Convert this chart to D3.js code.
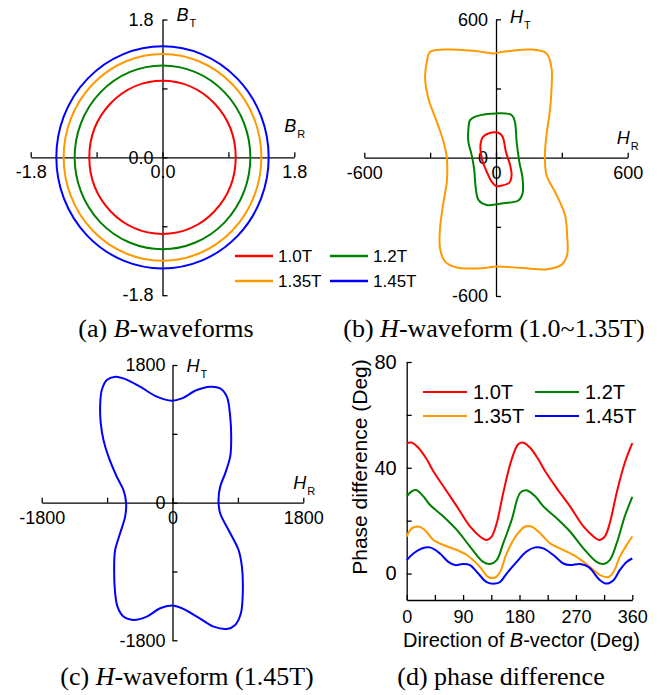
<!DOCTYPE html>
<html><head><meta charset="utf-8">
<script src="https://cdn.jsdelivr.net/npm/d3@7"></script>
<style>
body{margin:0;background:#fff;}
svg{display:block;font-family:Arial,"Liberation Sans",sans-serif;}
</style></head><body>
<svg id="chart" width="665" height="695"></svg>
<script>
// ---------------- data ----------------
const levels = ["1.0T", "1.2T", "1.35T", "1.45T"];
const colors = ["#ff0000", "#008000", "#ff9900", "#0000ff"];

// (a) B-waveform amplitudes (T) – rotating circles
const bAmplitudes = [1.0, 1.2, 1.35, 1.45];

// (b) H-loci [H_R, H_T] (A/m)
const hLoop10 = [[-61,88],[-35,105],[11,108],[30,91],[45,26],[64,-32],[71,-75],[61,-108],[26,-121],[0,-123],[-20,-104],[-42,-61],[-61,-17],[-70,26],[-70,62]];
const hLoop12 = [[-118,163],[-88,180],[3,192],[71,185],[86,156],[94,69],[106,-17],[121,-90],[121,-155],[102,-186],[33,-198],[-42,-205],[-80,-183],[-92,-133],[-100,-46],[-111,12],[-126,69],[-126,120]];
const hLoop135 = [[-315,416],[-300,459],[-209,469],[-88,462],[-12,452],[33,459],[155,469],[230,452],[253,387],[253,300],[245,199],[230,98],[223,12],[230,-75],[276,-162],[314,-248],[324,-335],[324,-422],[298,-465],[230,-484],[124,-479],[3,-472],[-58,-479],[-179,-476],[-232,-451],[-255,-393],[-255,-306],[-239,-191],[-224,-104],[-224,-3],[-239,69],[-270,156],[-308,257],[-323,344]];

// (c) H-locus at 1.45T
const hLoop145 = [[-996,1255],[-973,1473],[-904,1603],[-789,1647],[-675,1625],[-445,1516],[-216,1386],[-9,1333],[129,1364],[335,1473],[519,1516],[656,1494],[748,1386],[794,1124],[808,819],[794,601],[725,383],[656,209],[633,35],[656,-139],[771,-357],[909,-619],[955,-837],[968,-1142],[941,-1447],[863,-1599],[748,-1651],[565,-1621],[335,-1490],[129,-1381],[-9,-1346],[-170,-1381],[-353,-1490],[-537,-1534],[-675,-1490],[-757,-1359],[-789,-1185],[-803,-837],[-789,-619],[-721,-401],[-652,-183],[-638,-9],[-675,166],[-767,340],[-881,601],[-950,819],[-987,1037]];

// (d) phase difference [direction (deg), phase (deg)]
const phase10 = [[0,49.3],[8,49.5],[18.6,47.6],[32,43.2],[42.5,38.7],[58.5,33],[80,25.4],[101,17.8],[117,14],[127.6,12.7],[135.6,14],[143.6,19],[154,30.5],[167.5,43.2],[178,48.9],[186,49.5],[197,47.6],[210,43.2],[221,38.7],[239,32.4],[260.6,25.4],[282,17.8],[298,14],[307,12.7],[316,14],[324,19],[335,30.5],[348,41.9],[360,49.3]];
const phase12 = [[0,29.2],[8,31.1],[16,31.5],[26.6,29.2],[37,26],[58.5,21.6],[80,16.5],[101,10.2],[122,4.4],[133,3.6],[143.6,5.1],[154,11.4],[167.5,20.3],[181,30.5],[191,31.5],[205,29.2],[218,25.4],[239,21],[260.6,15.9],[282,9.5],[303,4.4],[314,3.6],[324,5.1],[335,11.4],[348,21.6],[360,29]];
const phase135 = [[0,14],[8,17.1],[18.6,17.8],[29,16.5],[42.5,12.7],[58.5,10.8],[80,8.9],[96,7],[117,2.5],[130,-1.3],[141,-1.5],[149,0.6],[159.5,7.6],[175.5,14.6],[189,17.8],[199,17.8],[213,15.2],[229,11.4],[250,8.9],[271,6.3],[292.5,2.5],[308.5,-0.6],[322,-1.3],[330,0.6],[340,6.3],[351,10.8],[360,14]];
const phase145 = [[0,5.1],[10.6,7.6],[24,9.5],[37,9.9],[53,7.6],[66.5,4.4],[77,3.2],[90,3.6],[101,3.2],[112,0.6],[127.6,-3.2],[141,-3.8],[149,-3.2],[159.5,0],[175.5,4.4],[191,8.3],[205,9.9],[218,9.5],[234,7],[250,3.8],[260.6,3.2],[276.5,3.6],[290,2.5],[308.5,-2.5],[319,-3.8],[330,-2.5],[340,1.3],[351,4.4],[360,5.7]];

const bTicks = [-1.8, -0.9, 0, 0.9, 1.8], bLabels = [-1.8, 0, 1.8];
const hbTicks = [-600, -300, 0, 300, 600], hbLabels = [-600, 0, 600];
const hcTicks = [-1800, -900, 0, 900, 1800], hcLabels = [-1800, 0, 1800];
const dirTicks = [0,45,90,135,180,225,270,315,360], dirLabels = [0,90,180,270,360];
const phTicks = [0,20,40,60,80], phLabels = [0,40,80];

const captions = [
  {pre:"(a) ", it:"B", post:"-waveforms"},
  {pre:"(b) ", it:"H", post:"-waveform (1.0~1.35T)"},
  {pre:"(c) ", it:"H", post:"-waveform (1.45T)"},
  {pre:"(d) phase difference", it:"", post:""}
];

// ---------------- drawing ----------------
const svg = d3.select("#chart");
const FS = 18;
const hy = f => (d => f(d).replace("\u2212", "-"));

function styleAxis(g) {
  g.attr("font-size", null).attr("font-family", null);
  g.selectAll("path.domain, line").attr("stroke", "#000").attr("stroke-width", 1.3);
  g.selectAll("text").attr("font-size", FS).attr("fill", "#000");
}

function crossAxes(x, y, ticks, labels, fmt, padX, padY) {
  const g = svg.append("g");
  const gx = g.append("g").attr("transform", `translate(0,${y(0)})`)
    .call(d3.axisBottom(x).tickValues(ticks).tickSizeInner(-5).tickSizeOuter(0).tickPadding(padX)
      .tickFormat(d => labels.includes(d) ? fmt(d) : ""));
  const gy = g.append("g").attr("transform", `translate(${x(0)},0)`)
    .call(d3.axisLeft(y).tickValues(ticks).tickSizeInner(-5).tickSizeOuter(0).tickPadding(padY)
      .tickFormat(d => labels.includes(d) ? fmt(d) : ""));
  styleAxis(gx); styleAxis(gy);
  return g;
}

function subLabel(x, y, main, sub) {
  const t = svg.append("text").attr("x", x).attr("y", y).attr("font-size", FS).attr("fill", "#000");
  t.append("tspan").attr("font-style", "italic").text(main);
  t.append("tspan").attr("font-size", 11).attr("dy", 6).attr("dx", 1).text(sub);
}

// ---- (a) ----
const xa = d3.scaleLinear().domain([-1.8, 1.8]).range([30.7, 294.3]);
const ya = d3.scaleLinear().domain([-1.8, 1.8]).range([295.2, 19.5]);
crossAxes(xa, ya, bTicks, bLabels, hy(d3.format(".1f")), 8, 9);
svg.append("g").selectAll("ellipse").data(bAmplitudes).join("ellipse")
  .attr("cx", xa(0)).attr("cy", ya(0))
  .attr("rx", d => xa(d) - xa(0)).attr("ry", d => ya(0) - ya(d))
  .attr("fill", "none").attr("stroke", (d, i) => colors[i]).attr("stroke-width", 2);
subLabel(xa(0) + 14, ya(1.8) + 1.5, "B", "T");
subLabel(xa(1.8) - 10, ya(0) - 25, "B", "R");

// ---- (b) ----
const xb = d3.scaleLinear().domain([-600, 600]).range([364.3, 627.7]);
const yb = d3.scaleLinear().domain([-600, 600]).range([296, 19.3]);
crossAxes(xb, yb, hbTicks, hbLabels, hy(d3.format("d")), 9, 8);
const loopLine = (x, y) => d3.line().x(d => x(d[0])).y(d => y(d[1])).curve(d3.curveCatmullRomClosed.alpha(0.5));
[[hLoop10, 0], [hLoop12, 1], [hLoop135, 2]].forEach(([dat, i]) => {
  svg.append("path").attr("d", loopLine(xb, yb)(dat)).attr("fill", "none")
    .attr("stroke", colors[i]).attr("stroke-width", 2);
});
subLabel(xb(0) + 14, yb(600) + 4, "H", "T");
subLabel(xb(600) - 11, yb(0) - 14, "H", "R");

// legend (a)/(b)
const legAB = svg.append("g").attr("font-size", 17);
levels.forEach((lv, i) => {
  const col = i % 2, row = Math.floor(i / 2);
  const x0 = col === 0 ? 235 : 330, yy = row === 0 ? 256 : 281;
  legAB.append("line").attr("x1", x0).attr("x2", x0 + 38).attr("y1", yy).attr("y2", yy)
    .attr("stroke", colors[i]).attr("stroke-width", 2.5);
  legAB.append("text").attr("x", x0 + 43).attr("y", yy).attr("dy", "0.35em").attr("fill", "#000").text(lv);
});

// ---- (c) ----
const xc = d3.scaleLinear().domain([-1800, 1800]).range([41.7, 303.3]);
const yc = d3.scaleLinear().domain([-1800, 1800]).range([640.3, 365]);
crossAxes(xc, yc, hcTicks, hcLabels, hy(d3.format("d")), 9, 7);
svg.append("path").attr("d", loopLine(xc, yc)(hLoop145)).attr("fill", "none")
  .attr("stroke", colors[3]).attr("stroke-width", 2);
subLabel(xc(0) + 14, yc(1800) + 6.5, "H", "T");
subLabel(xc(1800) - 10, yc(0) - 13.5, "H", "R");

// ---- (d) ----
const xd = d3.scaleLinear().domain([0, 360]).range([406.7, 632.3]);
const yd = d3.scaleLinear().domain([-10, 80]).range([600, 362]);
const gdx = svg.append("g").attr("transform", `translate(0,${yd(-10)})`)
  .call(d3.axisBottom(xd).tickValues(dirTicks).tickSizeInner(-5).tickSizeOuter(0).tickPadding(10)
    .tickFormat(d => dirLabels.includes(d) ? d : ""));
const gdy = svg.append("g").attr("transform", `translate(${xd(0)},0)`)
  .call(d3.axisLeft(yd).tickValues(phTicks).tickSizeInner(-5).tickSizeOuter(0).tickPadding(10)
    .tickFormat(d => phLabels.includes(d) ? d : ""));
styleAxis(gdx); styleAxis(gdy);
gdy.selectAll("text").attr("font-size", 20);
const pLine = d3.line().x(d => xd(d[0])).y(d => yd(d[1])).curve(d3.curveCatmullRom.alpha(0.5));
[phase10, phase12, phase135, phase145].forEach((dat, i) => {
  svg.append("path").attr("d", pLine(dat)).attr("fill", "none").attr("stroke", colors[i]).attr("stroke-width", 2);
});
const xt = svg.append("text").attr("x", (xd(0) + xd(360)) / 2 + 2).attr("y", 647)
  .attr("text-anchor", "middle").attr("font-size", 20).attr("fill", "#000");
xt.append("tspan").text("Direction of ");
xt.append("tspan").attr("font-style", "italic").text("B");
xt.append("tspan").text("-vector (Deg)");
svg.append("text").attr("transform", `translate(367,467) rotate(-90)`).attr("text-anchor", "middle")
  .attr("font-size", 21).attr("fill", "#000").text("Phase difference (Deg)");
const legD = svg.append("g").attr("font-size", 20);
levels.forEach((lv, i) => {
  const col = i % 2, row = Math.floor(i / 2);
  const x0 = col === 0 ? 423 : 535, yy = row === 0 ? 392 : 416;
  legD.append("line").attr("x1", x0).attr("x2", x0 + 44).attr("y1", yy).attr("y2", yy)
    .attr("stroke", colors[i]).attr("stroke-width", 2);
  legD.append("text").attr("x", x0 + 50).attr("y", yy).attr("dy", "0.35em").attr("fill", "#000").text(lv);
});

// ---- captions ----
const capPos = [[166, 337], [494, 337], [187, 685], [501, 685]];
captions.forEach((c, i) => {
  const t = svg.append("text").attr("x", capPos[i][0]).attr("y", capPos[i][1]).attr("text-anchor", "middle")
    .attr("font-family", "'Times New Roman','Liberation Serif',serif").attr("font-size", 26).attr("fill", "#000");
  t.append("tspan").text(c.pre);
  if (c.it) t.append("tspan").attr("font-style", "italic").text(c.it);
  if (c.post) t.append("tspan").text(c.post);
});
</script>
</body></html>
